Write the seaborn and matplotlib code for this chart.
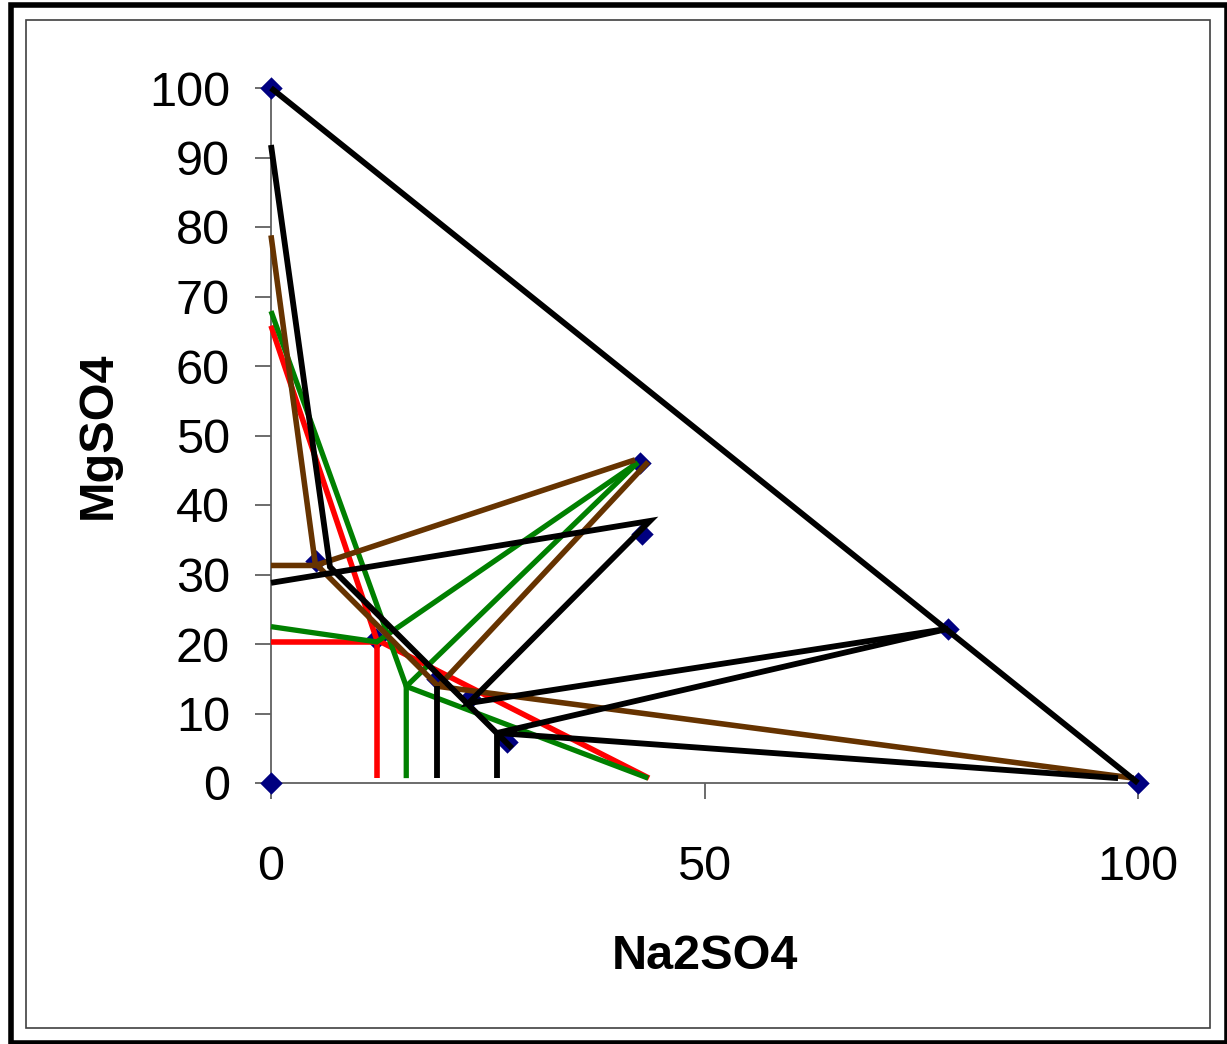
import matplotlib
matplotlib.use("Agg")
import matplotlib.pyplot as plt
import seaborn as sns
import pandas as pd
from matplotlib.patches import Rectangle

# ---------------- data ----------------
# composition points (markers)
pts_x = [0, 0, 100, 78.1, 42.6, 42.8, 5.2, 12.1, 19.1, 23.0, 27.2]
pts_y = [100, 0, 0, 22.2, 46.1, 35.8, 32.0, 20.7, 14.9, 12.2, 5.9]

# red series
red_iso_x = [0, 12.2, 43.6]
red_iso_y = [65.8, 20.6, 0.7]
red_tie_x = [0, 12.2, 12.2]
red_tie_y = [20.3, 20.3, 0.7]

# green series
green_iso_x = [0, 15.6, 43.5]
green_iso_y = [67.9, 13.9, 0.7]
green_tie1_x = [0, 12.2, 42.3]
green_tie1_y = [22.5, 20.3, 46.1]
green_tie2_x = [42.3, 15.6, 15.6]
green_tie2_y = [46.1, 13.9, 0.7]

# brown series
brown_iso_x = [0, 5.1, 19.3, 99.5]
brown_iso_y = [78.8, 31.6, 13.9, 0.7]
brown_tie1_x = [0, 5.1, 42.0]
brown_tie1_y = [31.3, 31.3, 46.5]
brown_tie2_x = [43.5, 19.3]
brown_tie2_y = [46.2, 13.9]

# black series
black_hyp_x = [0, 100]
black_hyp_y = [100, 0]
black_iso_x = [0, 6.8, 27.8]
black_iso_y = [91.8, 31.1, 5.0]
black_tie1_x = [0, 43.7, 22.8, 78.1]
black_tie1_y = [28.8, 37.7, 11.5, 22.2]
black_tie2_x = [97.7, 26.1, 78.1]
black_tie2_y = [0.7, 7.2, 22.2]
black_v1_x = [19.1, 19.1]
black_v1_y = [13.9, 0.7]
black_v2_x = [26.1, 26.1]
black_v2_y = [7.2, 0.7]

x_ticks = [0, 50, 100]
y_ticks = [0, 10, 20, 30, 40, 50, 60, 70, 80, 90, 100]
x_label = "Na2SO4"
y_label = "MgSO4"

# ---------------- style ----------------
sns.set_theme(style="white")
plt.rcParams['font.family'] = ['Liberation Sans', 'DejaVu Sans']

W, H = 1227, 1044
fig = plt.figure(figsize=(W / 100, H / 100), dpi=100)
ax = fig.add_axes([271 / W, 1 - 783 / H, (1138 - 271) / W, (783 - 88) / H])


def segs(pairs):
    rows = []
    for i, (xs, ys) in enumerate(pairs):
        for j, (a, b) in enumerate(zip(xs, ys)):
            rows.append({"seg": i, "order": j, "x": a, "y": b})
    return pd.DataFrame(rows)


groups = [
    ("#FF0000", [(red_iso_x, red_iso_y), (red_tie_x, red_tie_y)], 4.0),
    ("#008000", [(green_iso_x, green_iso_y), (green_tie1_x, green_tie1_y),
                 (green_tie2_x, green_tie2_y)], 3.8),
    ("#663300", [(brown_iso_x, brown_iso_y), (brown_tie1_x, brown_tie1_y),
                 (brown_tie2_x, brown_tie2_y)], 4.0),
    ("#000000", [(black_hyp_x, black_hyp_y), (black_iso_x, black_iso_y),
                 (black_tie1_x, black_tie1_y), (black_tie2_x, black_tie2_y),
                 (black_v1_x, black_v1_y), (black_v2_x, black_v2_y)], 4.2),
]

sns.scatterplot(x=pts_x, y=pts_y, marker="D", s=130, color="#000080",
                edgecolor="#000080", linewidth=0, ax=ax, zorder=2, clip_on=False)

for color, pairs, lw in groups:
    df = segs(pairs)
    n0 = len(ax.lines)
    sns.lineplot(data=df, x="x", y="y", units="seg", estimator=None, sort=False,
                 color=color, linewidth=lw, ax=ax, zorder=3, legend=False)
    for ln in ax.lines[n0:]:
        ln.set_linewidth(lw)
        ln.set_clip_on(False)
        ln.set_solid_capstyle("butt")
        ln.set_solid_joinstyle("miter")

ax.set_xlim(0, 100)
ax.set_ylim(0, 100)
ax.set_xticks(x_ticks)
ax.set_yticks(y_ticks)
ax.set_xticklabels([str(v) for v in x_ticks])
ax.set_yticklabels([str(v) for v in y_ticks])

for side in ["top", "right"]:
    ax.spines[side].set_visible(False)
for side in ["left", "bottom"]:
    ax.spines[side].set_color("#606060")
    ax.spines[side].set_linewidth(1.3)
    ax.spines[side].set_zorder(1)

ax.tick_params(axis="both", direction="out", length=11.5, width=1.3,
               color="#606060", labelsize=35, labelcolor="black")
ax.tick_params(axis="y", pad=18, left=True)
ax.tick_params(axis="x", pad=33, bottom=True)

ax.set_xlabel(x_label, fontsize=35, fontweight="bold", color="black")
ax.set_ylabel(y_label, fontsize=35, fontweight="bold", color="black")
ax.xaxis.set_label_coords(0.5, -0.217)
ax.yaxis.set_label_coords((121 - 271) / 867, 0.5)
ax.set_facecolor("white")
fig.patch.set_facecolor("white")


def frect(x0, y0, x1, y1, lw, color):
    fig.patches.append(Rectangle((x0 / W, 1 - y1 / H), (x1 - x0) / W, (y1 - y0) / H,
                                 transform=fig.transFigure, fill=False,
                                 edgecolor=color, linewidth=lw, zorder=0))


frect(11, 4.5, 1226.5, 1042.5, 4.0, "black")
frect(25.5, 19.5, 1210, 1027.5, 1.2, "#404040")

fig.savefig("out.png", dpi=100)
